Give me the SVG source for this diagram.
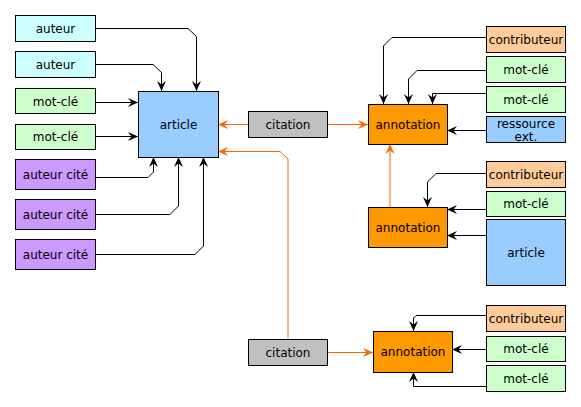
<svg xmlns="http://www.w3.org/2000/svg" width="581" height="407" viewBox="0 0 581 407">
<defs>
<marker id="ab" markerUnits="userSpaceOnUse" markerWidth="12" markerHeight="10" viewBox="-11 -5 12 10" refX="0" refY="0" orient="auto"><path d="M0,0 L-10,-4.5 L-6.5,0 L-10,4.5 Z" fill="#000"/></marker>
<marker id="ao" markerUnits="userSpaceOnUse" markerWidth="12" markerHeight="10" viewBox="-11 -5 12 10" refX="0" refY="0" orient="auto"><path d="M0,0 L-10,-4.5 L-6.5,0 L-10,4.5 Z" fill="#ff6600"/></marker>
</defs>
<style>
.n rect{stroke:#000;stroke-width:1}
text{font-family:"DejaVu Sans",Verdana,sans-serif;font-size:12px;text-anchor:middle;fill:#000}
.aut{fill:#ccffff}.kw{fill:#ccffcc}.cit{fill:#cc99ff}.art{fill:#99ccff}.ann{fill:#ff9900}.ct{fill:#c0c0c0}.con{fill:#ffcc99}
.k{fill:none;stroke:#000;stroke-width:1;marker-end:url(#ab)}
.o{fill:none;stroke:#ff6600;stroke-width:1;marker-end:url(#ao)}
</style>
<rect width="581" height="407" fill="#fff"/>
<g id="connectors">
<path class="k" d="M95,28.5 H188 L196.5,36.5 V91"/>
<path class="k" d="M95,64.5 H153 L161.5,72.5 V91"/>
<path class="k" d="M95,102.5 H138"/>
<path class="k" d="M95,136.5 H138"/>
<path class="k" d="M95,177.5 H148 L153.5,172 V157"/>
<path class="k" d="M95,214.5 H170 L178.5,206 V157"/>
<path class="k" d="M95,254.5 H195 L203.5,246 V157"/>
<path class="o" d="M248,124.5 H218"/>
<path class="o" d="M328,124.5 H368"/>
<path class="o" d="M288,339 V159 L280,151.5 H218"/>
<path class="o" d="M390,207 V144"/>
<path class="k" d="M486,37.5 H392 L383.5,46 V104"/>
<path class="k" d="M486,70.5 H417 L408.5,79 V104"/>
<path class="k" d="M486,93.5 H432.5 V104"/>
<path class="k" d="M486,130.5 H447"/>
<path class="k" d="M486,173.5 H436 L427.5,182 V207"/>
<path class="k" d="M486,209.5 H447"/>
<path class="k" d="M486,235.5 H447"/>
<path class="o" d="M328,352.5 H373"/>
<path class="k" d="M486,315.5 H416 L413.5,318 V331"/>
<path class="k" d="M486,349.5 H452"/>
<path class="k" d="M486,386.5 H413.5 V372"/>
</g>
<g class="n">
<g id="auteur1"><rect class="aut" x="15.5" y="15.5" width="80" height="26"/><text x="55.5" y="32.5">auteur</text></g>
<g id="auteur2"><rect class="aut" x="15.5" y="51.5" width="80" height="26"/><text x="55.5" y="68.5">auteur</text></g>
<g id="motcle1"><rect class="kw" x="15.5" y="88.5" width="80" height="25"/><text x="55.5" y="105.5">mot-clé</text></g>
<g id="motcle2"><rect class="kw" x="15.5" y="124.5" width="80" height="25"/><text x="55.5" y="141">mot-clé</text></g>
<g id="autcite1"><rect class="cit" x="15.5" y="159.5" width="80" height="30"/><text x="55.5" y="178.5">auteur cité</text></g>
<g id="autcite2"><rect class="cit" x="15.5" y="199.5" width="80" height="30"/><text x="55.5" y="218.5">auteur cité</text></g>
<g id="autcite3"><rect class="cit" x="15.5" y="239.5" width="80" height="30"/><text x="55.5" y="258.5">auteur cité</text></g>
<g id="article1"><rect class="art" x="138.5" y="91.5" width="80" height="66"/><text x="178.5" y="129">article</text></g>
<g id="citation1"><rect class="ct" x="248.5" y="111.5" width="79" height="26"/><text x="288" y="128.5">citation</text></g>
<g id="annotation1"><rect class="ann" x="368.5" y="104.5" width="79" height="40"/><text x="408" y="128.5">annotation</text></g>
<g id="contrib1"><rect class="con" x="486.5" y="26.5" width="79" height="26"/><text x="526" y="43.5">contributeur</text></g>
<g id="motcle3"><rect class="kw" x="486.5" y="56.5" width="79" height="26"/><text x="526" y="73.5">mot-clé</text></g>
<g id="motcle4"><rect class="kw" x="486.5" y="86.5" width="79" height="26"/><text x="526" y="103.5">mot-clé</text></g>
<g id="ressource"><rect class="art" x="486.5" y="116.5" width="79" height="26"/><text x="526" y="127.5">ressource</text><text x="526" y="141">ext.</text></g>
<g id="annotation2"><rect class="ann" x="368.5" y="207.5" width="79" height="40"/><text x="408" y="231.5">annotation</text></g>
<g id="contrib2"><rect class="con" x="486.5" y="161.5" width="79" height="26"/><text x="526" y="178.5">contributeur</text></g>
<g id="motcle5"><rect class="kw" x="486.5" y="191.5" width="79" height="25"/><text x="526" y="208">mot-clé</text></g>
<g id="article2"><rect class="art" x="486.5" y="219.5" width="79" height="66"/><text x="526" y="257">article</text></g>
<g id="citation2"><rect class="ct" x="248.5" y="339.5" width="79" height="26"/><text x="288" y="356.5">citation</text></g>
<g id="annotation3"><rect class="ann" x="373.5" y="331.5" width="79" height="41"/><text x="413" y="356">annotation</text></g>
<g id="contrib3"><rect class="con" x="486.5" y="305.5" width="79" height="26"/><text x="526" y="322.5">contributeur</text></g>
<g id="motcle6"><rect class="kw" x="486.5" y="336.5" width="79" height="25"/><text x="526" y="353">mot-clé</text></g>
<g id="motcle7"><rect class="kw" x="486.5" y="365.5" width="79" height="26"/><text x="526" y="382.5">mot-clé</text></g>
</g>
</svg>
